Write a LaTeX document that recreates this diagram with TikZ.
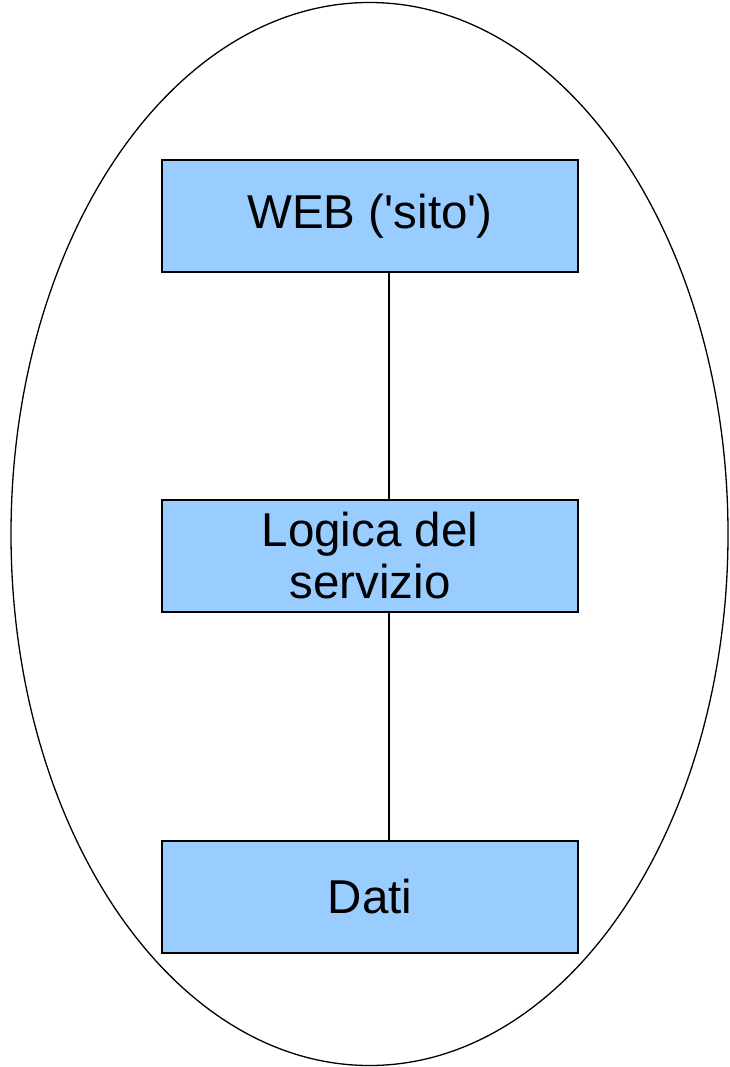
\documentclass[tikz,border=0pt]{standalone}
\usepackage{fontspec}
\setmainfont{Liberation Sans}
\definecolor{boxblue}{HTML}{99CCFF}
\begin{document}
\begin{tikzpicture}[x=1pt,y=-1pt,
  layer/.style={draw=black, line width=1.3pt, fill=boxblue, minimum width=416pt, minimum height=112pt, inner sep=0pt, align=center, font=\fontsize{47.5}{52}\selectfont},
  link/.style={draw=black, line width=1.3pt}]
\useasboundingbox (0,0) rectangle (730,1067);
\draw[line width=1.3pt] (369.5,534) ellipse [x radius=358.5pt, y radius=531.5pt];
\node[layer] (web) at (370,216) {WEB (\textquotesingle sito\textquotesingle)};
\node[layer] (logic) at (370,556) {Logica del\\servizio};
\node[layer] (data) at (370,897) {Dati};
\draw[link] (web.south -| 389,0) -- (logic.north -| 389,0);
\draw[link] (logic.south -| 389,0) -- (data.north -| 389,0);
\end{tikzpicture}
\end{document}
